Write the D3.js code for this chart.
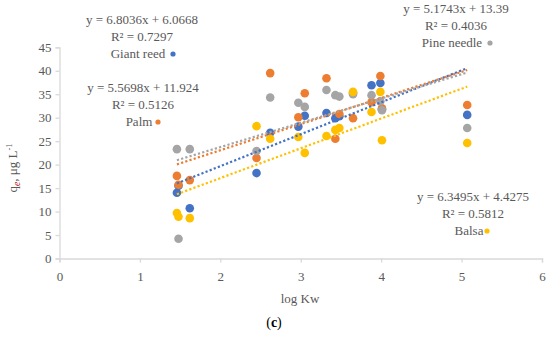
<!DOCTYPE html>
<html>
<head>
<meta charset="utf-8">
<script src="https://cdn.jsdelivr.net/npm/d3@7"></script>
<style>
  body { margin: 0; background: #fff; }
  svg text { font-family: "Palatino Linotype", "Book Antiqua", "Liberation Serif", "DejaVu Serif", serif; fill: #595959; }
</style>
</head>
<body>
<svg id="chart" width="550" height="351"></svg>
<script>
// log Kw values of the compounds
const logKw = [1.46, 1.48, 1.62, 2.45, 2.62, 2.97, 3.05, 3.32, 3.43, 3.48, 3.65, 3.88, 3.99, 4.01, 5.07];

// qe values per sorbent
const giantReed  = [14.0, 15.5, 10.7, 18.2, 26.8, 28.1, 30.4, 31.0, 29.9, 30.3, 35.3, 36.9, 37.4, 31.8, 30.6];
const palm       = [17.6, 15.7, 16.7, 21.4, 39.5, 30.1, 35.2, 38.4, 25.5, 30.8, 29.9, 33.3, 38.9, 32.0, 32.7];
const pineNeedle = [23.3, 4.2, 23.3, 22.9, 34.3, 33.2, 32.3, 35.9, 34.8, 34.5, 35.0, 34.8, 33.5, 31.6, 27.8];
const balsa      = [9.7, 8.9, 8.6, 28.2, 25.5, 25.9, 22.5, 26.1, 27.4, 27.8, 35.5, 31.2, 35.5, 25.2, 24.6];

// trendline coefficients [slope, intercept, R2]
const fits = {
  giantReed: [6.8036, 6.0668, 0.7297],
  palm: [5.5698, 11.924, 0.5126],
  pineNeedle: [5.1743, 13.39, 0.4036],
  balsa: [6.3495, 4.4275, 0.5812]
};

const xTicks = [0, 1, 2, 3, 4, 5, 6];
const yTicks = [0, 5, 10, 15, 20, 25, 30, 35, 40, 45];

const series = [
  { name: 'Giant reed', key: 'giantReed', values: giantReed, color: '#4472C4' },
  { name: 'Palm', key: 'palm', values: palm, color: '#ED7D31' },
  { name: 'Pine needle', key: 'pineNeedle', values: pineNeedle, color: '#A5A5A5' },
  { name: 'Balsa', key: 'balsa', values: balsa, color: '#FFC000' }
];

// where each trendline label sits (center x, baseline of first line)
const labelPos = {
  giantReed: { x: 142, y: 24, dotX: 173 },
  palm: { x: 143, y: 92, dotX: 158 },
  pineNeedle: { x: 456, y: 13, dotX: 490 },
  balsa: { x: 473, y: 201, dotX: 487 }
};

const FONT = '"Palatino Linotype", "Book Antiqua", "Liberation Serif", "DejaVu Serif", serif';
const svg = d3.select('#chart');

const x = d3.scaleLinear().domain([0, 6]).range([59.5, 542]);
const y = d3.scaleLinear().domain([0, 45]).range([258.5, 47.3]);

// axes
const xAxis = svg.append('g')
  .attr('transform', `translate(0, ${y(0)})`)
  .call(d3.axisBottom(x).tickValues(xTicks).tickSize(4).tickFormat(d3.format('d')));
const yAxis = svg.append('g')
  .attr('transform', `translate(${x(0)}, 0)`)
  .call(d3.axisLeft(y).tickValues(yTicks).tickSize(4).tickFormat(d3.format('d')));

[xAxis, yAxis].forEach(a => {
  a.attr('font-family', FONT).attr('font-size', 13);
  a.select('.domain').attr('stroke', '#D9D9D9').attr('stroke-width', 1.3);
  a.selectAll('.tick line').attr('stroke', '#D9D9D9').attr('stroke-width', 1.3);
  a.selectAll('.tick text').attr('fill', '#595959');
});
xAxis.selectAll('.tick text').attr('dy', '1.2em');
yAxis.selectAll('.tick text').attr('x', -8);

// points
series.forEach(s => {
  svg.append('g')
    .selectAll('circle')
    .data(s.values.map((v, i) => [logKw[i], v]))
    .enter()
    .append('circle')
    .attr('cx', d => x(d[0]))
    .attr('cy', d => y(d[1]))
    .attr('r', 4.3)
    .attr('fill', s.color);
});

// trendlines
const xMin = d3.min(logKw), xMax = d3.max(logKw);
series.forEach(s => {
  const [m, b] = fits[s.key];
  svg.append('line')
    .attr('x1', x(xMin)).attr('y1', y(m * xMin + b))
    .attr('x2', x(xMax)).attr('y2', y(m * xMax + b))
    .attr('stroke', s.color)
    .attr('stroke-width', 2.2)
    .attr('stroke-dasharray', '2.2 2.2');
});

// equation labels
series.forEach(s => {
  const [m, b, r2] = fits[s.key];
  const p = labelPos[s.key];
  const g = svg.append('g').attr('font-size', 13).attr('text-anchor', 'middle');
  g.append('text').attr('x', p.x).attr('y', p.y).text(`y = ${m}x + ${b}`);
  g.append('text').attr('x', p.x).attr('y', p.y + 17).text(`R² = ${r2}`);
  g.append('text').attr('x', p.x - 4).attr('y', p.y + 34).text(s.name);
  svg.append('circle')
    .attr('cx', p.dotX).attr('cy', p.y + 30)
    .attr('r', 2.6).attr('fill', s.color);
});

// axis titles
svg.append('text')
  .attr('x', 300).attr('y', 303)
  .attr('text-anchor', 'middle')
  .attr('font-size', 13)
  .text('log Kw');

const yt = svg.append('text')
  .attr('transform', 'translate(17, 168) rotate(-90)')
  .attr('text-anchor', 'middle')
  .attr('font-size', 13);
yt.append('tspan').text('q');
yt.append('tspan').attr('font-size', 9.5).attr('dy', 3).attr('font-style', 'italic').style('fill', '#C00000').text('e');
yt.append('tspan').attr('dy', -3).text(', μg L');
yt.append('tspan').attr('font-size', 8.5).attr('dy', -5).text('-1');

svg.append('text')
  .attr('x', 274).attr('y', 327)
  .attr('text-anchor', 'middle')
  .attr('font-size', 14)
  .style('fill', '#000')
  .html('(<tspan font-weight="bold">c</tspan>)');
</script>
</body>
</html>
